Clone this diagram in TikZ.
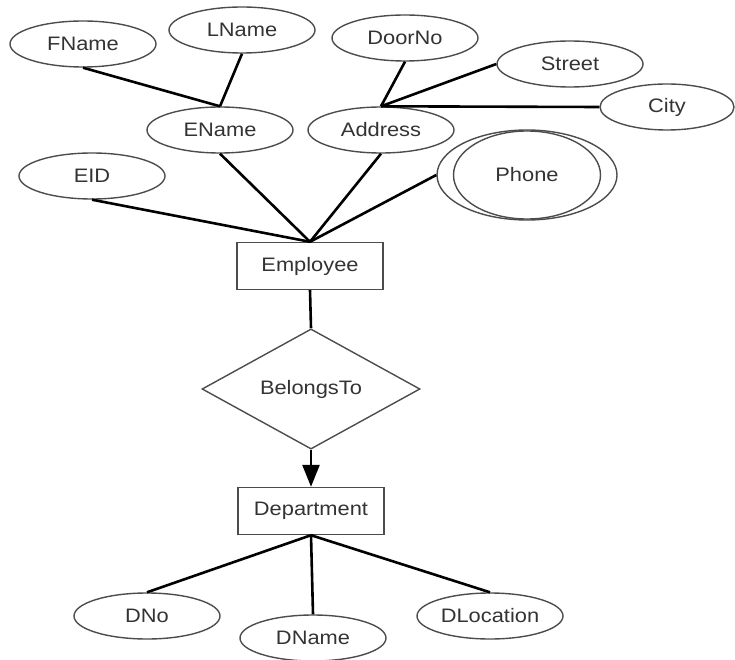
\documentclass[tikz,border=0pt]{standalone}
\usepackage{fontspec}
\setmainfont[FakeStretch=1.12]{Liberation Sans}
\usetikzlibrary{shapes.geometric,arrows.meta}
\begin{document}
\begin{tikzpicture}[x=1pt,y=-1pt,
  txt/.style={text=black!80,font=\fontsize{19.5}{22}\selectfont},
  attr/.style={txt,ellipse,draw=black!70,line width=1.4pt,inner sep=0pt,minimum width=146pt,minimum height=46pt},
  ent/.style={txt,rectangle,draw=black!70,line width=1.4pt,inner sep=0pt,minimum width=146pt,minimum height=47pt},
  rel/.style={txt,diamond,draw=black!70,line width=1.4pt,inner sep=0pt,minimum width=218pt,minimum height=76pt},
  conn/.style={line width=2.6pt,black}]
\useasboundingbox (0,0) rectangle (735,660);
% attributes
\node[attr] (FName) at (83,44) {FName};
\node[attr] (LName) at (242,30) {LName};
\node[attr] (EName) at (220,130) {EName};
\node[attr] (EID) at (92,176) {EID};
\node[attr] (DoorNo) at (405,38) {DoorNo};
\node[attr] (Street) at (570,64) {Street};
\node[attr,minimum width=134pt] (City) at (667,107) {City};
\node[attr] (Address) at (381,130) {Address};
\node[attr,minimum width=180pt,minimum height=90pt] (Phone) at (527,175) {Phone};
\node[attr,minimum width=147pt,minimum height=88pt] (PhoneIn) at (527,175) {};
% entities
\node[ent] (Employee) at (310,266) {Employee};
\node[rel] (BelongsTo) at (311,389) {BelongsTo};
\node[ent] (Department) at (311,511) {Department};
\node[attr] (DNo) at (147,616) {DNo};
\node[attr] (DName) at (313,638) {DName};
\node[attr] (DLocation) at (490,616) {DLocation};
% connectors
\draw[conn] (FName.south) -- (EName.north);
\draw[conn] (LName.south) -- (EName.north);
\draw[conn] (DoorNo.south) -- (Address.north);
\draw[conn] (Street.west) -- (Address.north);
\draw[conn] (City.west) -- (Address.north);
\draw[conn] (EName.south) -- (Employee.north);
\draw[conn] (EID.south) -- (Employee.north);
\draw[conn] (Address.south) -- (Employee.north);
\draw[conn] (Phone.west) -- (Employee.north);
\draw[conn] (Employee.south) -- (BelongsTo.north);
\draw[conn,-{Triangle[length=22pt,width=17pt]}] (BelongsTo.south) -- (Department.north);
\draw[conn] (Department.south) -- (DNo.north);
\draw[conn] (Department.south) -- (DName.north);
\draw[conn] (Department.south) -- (DLocation.north);
\end{tikzpicture}
\end{document}
